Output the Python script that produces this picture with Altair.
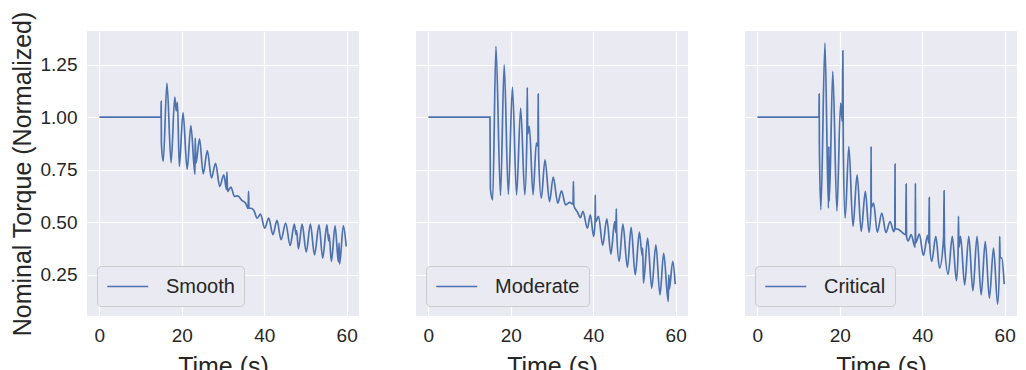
import altair as alt
import pandas as pd

# ---- data ----
smooth_t = [0, 14.95, 15.0, 15.05, 15.5, 16.4, 17.4, 18.3, 18.65, 18.95, 19.4, 20.3, 21.3, 22.2, 23.2,
            23.25, 23.45, 24.3, 25.2, 26.2, 27.2, 28.2, 29.2, 30.2, 30.85, 30.95, 31.1, 31.9, 32.8,
            33.6, 34.5, 35.5, 36.1, 36.2, 36.3, 37.0, 37.5, 38.3, 39.1, 40.1, 41.1, 42.1, 43.1, 44.1,
            45.2, 46.3, 47.3, 47.75, 47.85, 48.3, 49.2, 50.2, 51.2, 52.2, 53.3, 54.2, 55.2, 55.65,
            55.75, 56.3, 57.2, 58.0, 58.15, 58.3, 59.2, 59.9]
smooth_v = [1.0, 1.0, 1.075, 0.876, 0.79, 1.162, 0.783, 1.095, 1.03, 1.07, 0.765, 1.022, 0.752, 0.96, 0.728,
            0.90, 0.78, 0.897, 0.73, 0.84, 0.71, 0.78, 0.67, 0.725, 0.655, 0.738, 0.646, 0.667, 0.622,
            0.625, 0.605, 0.59, 0.565, 0.646, 0.567, 0.565, 0.555, 0.519, 0.538, 0.471, 0.519, 0.44, 0.508, 0.416,
            0.495, 0.389, 0.49, 0.44, 0.46, 0.373, 0.49, 0.357, 0.49, 0.344, 0.487, 0.329, 0.487, 0.41,
            0.44, 0.313, 0.482, 0.31, 0.40, 0.30, 0.482, 0.384]

moderate_t = [0, 14.95, 15.05, 15.6, 16.4, 17.5, 18.4, 19.4, 20.4, 21.4, 22.4, 23.4, 23.9, 24.0, 24.1,
              24.5, 25.4, 26.2, 26.6, 26.65, 26.75, 27.4, 28.3, 29.4, 30.3, 31.4, 32.3, 33.3, 34.3,
              35.1, 35.2, 35.3, 35.8, 36.1, 36.9, 37.5, 38.6, 39.3, 40.1, 40.45, 40.5, 40.55, 41.3,
              42.3, 43.3, 44.3, 45.2, 45.5, 45.6, 45.7, 46.3, 47.2, 48.3, 49.2, 50.2, 51.2, 51.9,
              52.0, 52.2, 53.2, 54.2, 55.2, 56.2, 57.1, 58.2, 58.35, 58.45, 59.3, 59.9]
moderate_v = [1.0, 1.0, 0.66, 0.606, 1.337, 0.627, 1.249, 0.633, 1.143, 0.63, 1.043, 0.63, 0.90, 1.141, 0.92,
              0.956, 0.63, 0.876, 0.86, 1.11, 0.82, 0.614, 0.797, 0.598, 0.714, 0.59, 0.649, 0.582, 0.594,
              0.585, 0.694, 0.58, 0.559, 0.551, 0.522, 0.551, 0.471, 0.535, 0.432, 0.50, 0.63, 0.50, 0.527,
              0.389, 0.516, 0.348, 0.503, 0.45, 0.563, 0.45, 0.313, 0.49, 0.284, 0.475, 0.249, 0.452, 0.34,
              0.376, 0.21, 0.424, 0.186, 0.392, 0.154, 0.352, 0.122, 0.249, 0.18, 0.313, 0.205]

critical_t = [0, 14.95, 15.0, 15.05, 15.4, 16.4, 17.25, 17.35, 17.45, 18.3, 19.3, 20.2, 20.6, 20.75,
              20.85, 21.3, 22.2, 23.2, 24.2, 25.2, 26.2, 27.1, 27.55, 27.6, 27.65, 28.2, 29.1, 30.2,
              31.2, 32.2, 33.1, 33.35, 33.4, 33.45, 34.3, 35.3, 36.0, 36.1, 36.2, 36.6, 37.3, 38.3,
              38.35, 38.4, 39.3, 40.3, 41.3, 41.6, 41.7, 41.8, 42.3, 43.3, 44.2, 45.2, 45.3, 45.4,
              46.3, 47.3, 48.3, 48.7, 48.8, 48.9, 49.3, 50.3, 51.3, 52.3, 53.3, 54.3, 55.3, 56.3,
              57.3, 58.3, 58.75, 58.8, 58.9, 59.3, 59.9]
critical_v = [1.0, 1.0, 1.11, 0.868, 0.559, 1.352, 0.567, 0.86, 0.60, 1.218, 0.554, 1.067, 0.98, 1.316,
              0.86, 0.519, 0.86, 0.48, 0.725, 0.456, 0.646, 0.452, 0.56, 0.86, 0.57, 0.59, 0.452, 0.543,
              0.45, 0.503, 0.455, 0.47, 0.776, 0.47, 0.465, 0.448, 0.44, 0.681, 0.43, 0.41, 0.44, 0.38,
              0.686, 0.40, 0.443, 0.341, 0.437, 0.40, 0.617, 0.40, 0.313, 0.432, 0.281, 0.43, 0.649, 0.40,
              0.252, 0.432, 0.221, 0.35, 0.527, 0.38, 0.432, 0.201, 0.432, 0.173, 0.432, 0.154, 0.408, 0.138,
              0.376, 0.11, 0.30, 0.432, 0.33, 0.329, 0.205]

series_names = ["Smooth", "Moderate", "Critical"]
x_ticks = [0, 20, 40, 60]
y_ticks = [0.25, 0.5, 0.75, 1.0, 1.25]

FONT = "Liberation Sans"
TEXT = "#262626"
LINE = "#4C72B0"


def panel(name, ts, vs, first):
    df = pd.DataFrame({"t": ts, "v": vs, "series": name})
    if first:
        yaxis = alt.Axis(values=y_ticks, format=".2f", title="Nominal Torque (Normalized)",
                         labelPadding=10, titlePadding=5)
    else:
        yaxis = alt.Axis(values=y_ticks, labels=False, title=None)
    return alt.Chart(df).mark_line(strokeWidth=1.7, clip=True, interpolate="monotone").encode(
        x=alt.X("t:Q", scale=alt.Scale(domain=[-3, 63], nice=False, zero=False),
                axis=alt.Axis(values=x_ticks, title="Time (s)", labelPadding=10, titlePadding=9)),
        y=alt.Y("v:Q", scale=alt.Scale(domain=[0.053, 1.41], nice=False, zero=False), axis=yaxis),
        color=alt.Color("series:N", scale=alt.Scale(domain=[name], range=[LINE]),
                        legend=alt.Legend(title=None, orient="bottom-left", offset=10, padding=9,
                                          symbolType="M-1,0L3,0", symbolSize=420, symbolStrokeWidth=1.7,
                                          symbolFillColor="transparent",
                                          labelFontSize=20, labelFont=FONT, labelColor=TEXT,
                                          labelOffset=37, fillColor="#EAEAF2", strokeColor="#CCCCCC",
                                          cornerRadius=4)),
        order="t:Q",
    ).properties(width=272, height=285)


charts = [
    panel(series_names[0], smooth_t, smooth_v, True),
    panel(series_names[1], moderate_t, moderate_v, False),
    panel(series_names[2], critical_t, critical_v, False),
]

chart = alt.hconcat(*charts, spacing=57).resolve_scale(color="independent").resolve_legend(
    color="independent"
).properties(
    padding={"left": 2, "top": 2, "right": 0, "bottom": 5}
).configure(
    background="white"
).configure_view(
    fill="#EAEAF2", stroke=None
).configure_axis(
    grid=True, gridColor="white", gridWidth=1.2, gridOpacity=1, domain=False, ticks=False,
    labelFont=FONT, labelFontSize=19, labelColor=TEXT,
    titleFont=FONT, titleFontSize=25, titleFontWeight="normal", titleColor=TEXT,
)

chart.save("out.html", embed_options={"renderer": "svg", "actions": False})
